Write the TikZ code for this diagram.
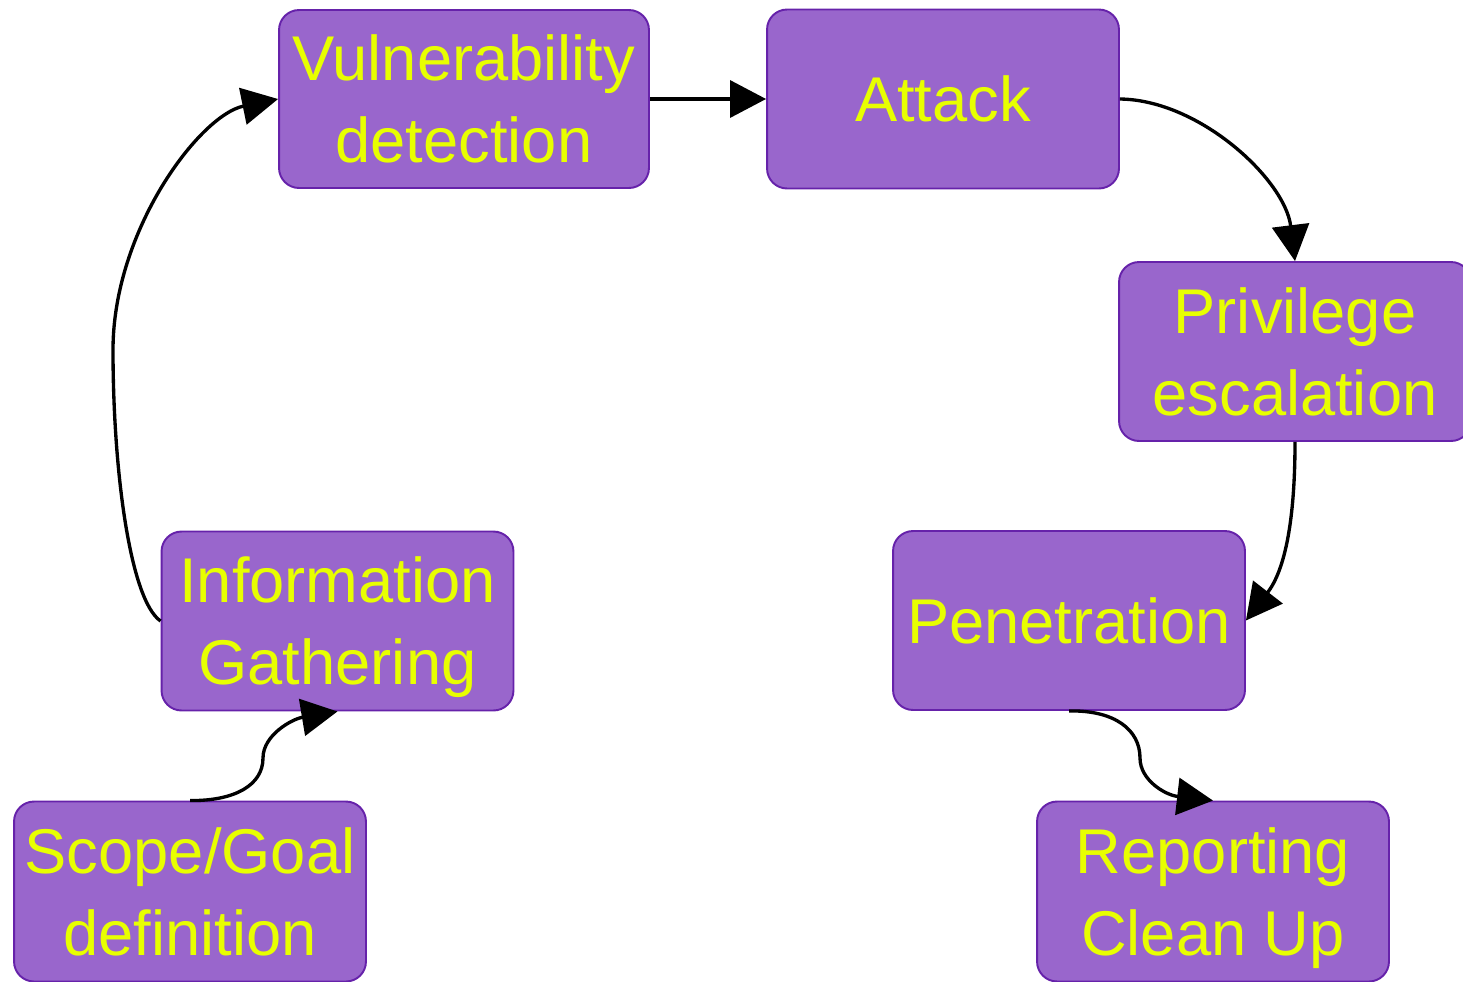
\documentclass[tikz,border=0pt]{standalone}
\usepackage{fontspec}
\setmainfont{Liberation Sans}
\usetikzlibrary{arrows.meta}
\definecolor{boxfill}{RGB}{153,102,204}
\definecolor{boxline}{RGB}{102,34,170}
\definecolor{boxtext}{RGB}{232,255,0}
\begin{document}
\begin{tikzpicture}[x=0.02cm,y=-0.02cm,
  stepbox/.style={draw=boxline, fill=boxfill, rounded corners=0.4cm,
    line width=1.1pt, text=boxtext, minimum width=7.04cm, minimum height=3.58cm,
    inner sep=0pt, align=center, text height=72.3pt, text depth=0pt,
    font=\fontsize{36}{46.5}\selectfont},
  oneline/.style={text height=25.8pt},
  flow/.style={draw=black, line width=1.9pt,
    -{Triangle[length=0.72cm,width=0.74cm]}}]
\useasboundingbox (0,0) rectangle (1463,981);

% process steps
\node[stepbox, minimum width=7.4cm, minimum height=3.56cm] (vd) at (464,99) {Vulnerability\\detection};
\node[stepbox, oneline] (attack) at (943,99) {Attack};
\node[stepbox] (pe) at (1295,351.5) {Privilege\\escalation};
\node[stepbox, oneline] (pen) at (1069,620.5) {Penetration};
\node[stepbox, minimum height=3.6cm] (rep) at (1213,891.5) {Reporting\\Clean Up};
\node[stepbox] (ig) at (337.5,621) {Information\\Gathering};
\node[stepbox, minimum height=3.6cm] (scope) at (190,891.5) {Scope/Goal\\definition};

% connectors
\draw[flow] (scope.north) .. controls (235,801) and (263,785) .. (263,758)
  .. controls (263,735) and (292,719) .. (ig.south);
\draw[flow] (ig.west) .. controls (130,600) and (113,470) .. (113,350)
  .. controls (113,230) and (200,115) .. (vd.west);
\draw[flow] (vd.east) -- (attack.west);
\draw[flow] (attack.east) .. controls (1200,100) and (1285,180) .. (pe.north);
\draw[flow] (pe.south) .. controls (1295,520) and (1285,570) .. (pen.east);
\draw[flow] (pen.south) .. controls (1115,710) and (1140,730) .. (1140,758)
  .. controls (1140,780) and (1165,795) .. (rep.north);
\end{tikzpicture}
\end{document}
